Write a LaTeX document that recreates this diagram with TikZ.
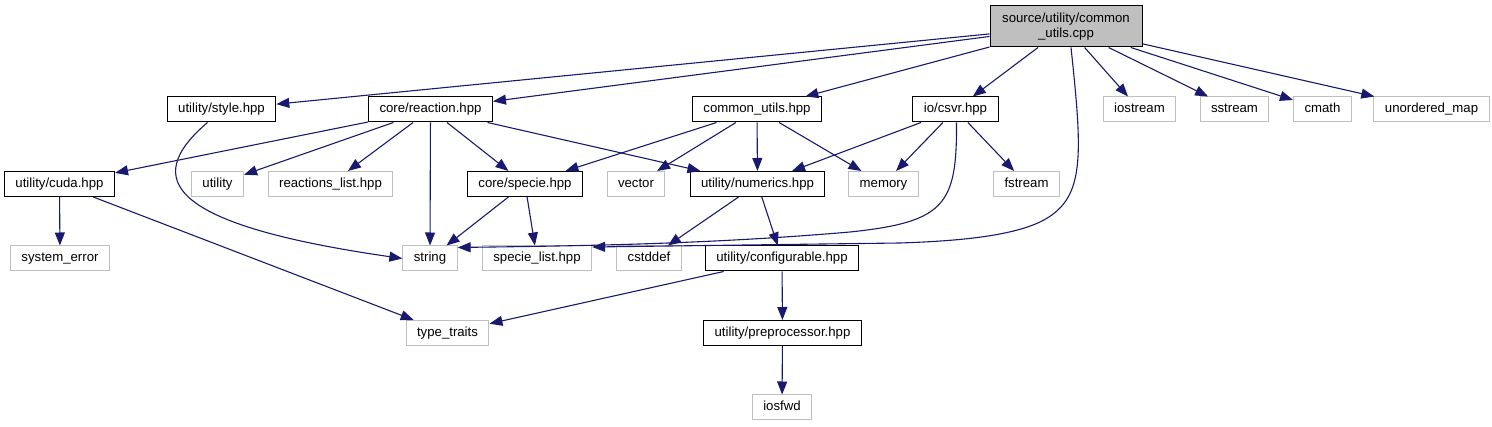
\documentclass[tikz,border=0pt]{standalone}
\usepackage{fontspec}
\setmainfont{Liberation Sans}
\usetikzlibrary{arrows.meta,positioning}

\definecolor{edgeblue}{HTML}{191970}
\definecolor{extgray}{HTML}{BFBFBF}

\begin{document}
\begin{tikzpicture}[
    x=1pt, y=-1pt,
    font=\fontsize{13.2}{15}\selectfont,
    header/.style={draw=black, line width=1pt, rectangle, minimum height=25pt, inner xsep=11pt, inner ysep=0pt, text height=9.6pt, text depth=2.8pt},
    stdlib/.style={header, draw=extgray},
    srcfile/.style={draw=black, line width=1pt, rectangle, fill=extgray, align=center, minimum width=152pt, minimum height=41pt, inner sep=0pt},
    inc/.style={draw=edgeblue, line width=1.1pt, -{Triangle[length=13pt,width=10pt]}}
]
    \useasboundingbox (0,0) rectangle (1492,427);

    % --- Source file ---
    \node[srcfile] (root) at (1066,26.5) {source/utility/common\\\_utils.cpp};

    % Direct includes
    \node[header] (style) at (221.5,109.5) {utility/style.hpp};
    \node[header] (reaction) at (430.5,109.5) {core/reaction.hpp};
    \node[header] (common) at (757,109.5) {common\_utils.hpp};
    \node[header] (csvr) at (955.5,109.5) {io/csvr.hpp};
    \node[stdlib] (iostream) at (1139.5,109.5) {iostream};
    \node[stdlib] (sstream) at (1234.5,109.5) {sstream};
    \node[stdlib] (cmath) at (1322.5,109.5) {cmath};
    \node[stdlib] (umap) at (1431.5,109.5) {unordered\_map};

    % Second level
    \node[header] (cuda) at (59.5,184) {utility/cuda.hpp};
    \node[stdlib] (utility) at (217.5,184) {utility};
    \node[stdlib] (rlist) at (330.5,184) {reactions\_list.hpp};
    \node[header] (specie) at (525,184) {core/specie.hpp};
    \node[stdlib] (vector) at (636,184) {vector};
    \node[header] (numerics) at (757.5,184) {utility/numerics.hpp};
    \node[stdlib] (memory) at (883.5,184) {memory};
    \node[stdlib] (fstream) at (1026.5,184) {fstream};

    % Third level
    \node[stdlib] (syserr) at (60,258.5) {system\_error};
    \node[stdlib] (string) at (430,258.5) {string};
    \node[stdlib] (slist) at (537,258.5) {specie\_list.hpp};
    \node[stdlib] (cstddef) at (649,258.5) {cstddef};
    \node[header] (config) at (782,258.5) {utility/configurable.hpp};

    % Fourth and fifth level
    \node[stdlib] (traits) at (447.5,333) {type\_traits};
    \node[header] (preproc) at (782.5,333) {utility/preprocessor.hpp};
    \node[stdlib] (iosfwd) at (782,407.5) {iosfwd};

    % Includes of the source file
    \draw[inc] (root) -- (style);
    \draw[inc] (root) -- (reaction);
    \draw[inc] (root) -- (common);
    \draw[inc] (root) -- (csvr);
    \draw[inc] (root) -- (iostream);
    \draw[inc] (root) -- (sstream);
    \draw[inc] (root) -- (cmath);
    \draw[inc] (root) -- (umap);
    \draw[inc] ([xshift=5pt]root.south) .. controls (1083,160) and (1085,200) .. (1040,222)
        .. controls (1010,236) and (960,241) .. (900,243) -- ([yshift=-1.5pt]slist.north east);

    % Includes of the headers
    \draw[inc] ([xshift=-14pt]style.south) .. controls (140,180) and (170,225) .. (string.west);
    \draw[inc] (reaction) -- (cuda);
    \draw[inc] (reaction) -- (utility);
    \draw[inc] (reaction) -- (rlist);
    \draw[inc] (reaction) -- (string);
    \draw[inc] (reaction) -- (specie);
    \draw[inc] (reaction) -- (numerics);
    \draw[inc] (common) -- (specie);
    \draw[inc] (common) -- (vector);
    \draw[inc] (common) -- (numerics);
    \draw[inc] (common) -- (memory);
    \draw[inc] (csvr) -- (numerics);
    \draw[inc] (csvr) -- (memory);
    \draw[inc] (csvr) -- (fstream);
    \draw[inc] ([xshift=1pt]csvr.south) .. controls (957,205) and (945,222) .. (850,232)
        .. controls (700,245) and (560,246) .. ([yshift=-2pt]string.north east);
    \draw[inc] (cuda) -- (syserr);
    \draw[inc] (cuda) -- (traits);
    \draw[inc] (specie) -- (string);
    \draw[inc] (specie) -- (slist);
    \draw[inc] (numerics) -- (cstddef);
    \draw[inc] (numerics) -- (config);
    \draw[inc] (config) -- (traits);
    \draw[inc] (config) -- (preproc);
    \draw[inc] (preproc) -- (iosfwd);

\end{tikzpicture}
\end{document}
